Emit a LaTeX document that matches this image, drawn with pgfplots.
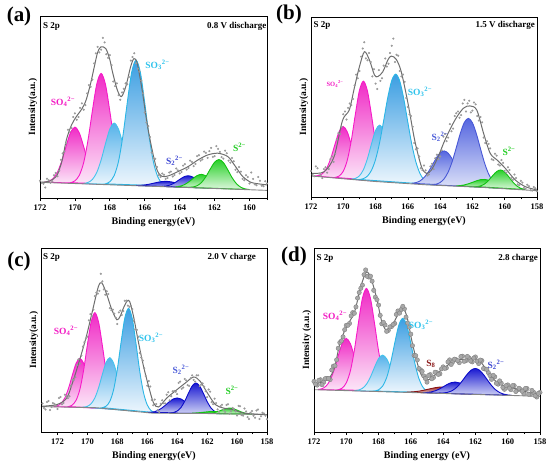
\documentclass[border=0pt]{standalone}
\usepackage{fontspec}
\setmainfont{Liberation Serif}
\usepackage{pgfplots}
\pgfplotsset{compat=1.18}
\definecolor{pinkL}{HTML}{F719C8}
\definecolor{pinkT}{HTML}{F02BC6}
\definecolor{pinkB}{HTML}{FCE8F8}
\definecolor{cyanL}{HTML}{2BB6E6}
\definecolor{cyanT}{HTML}{3B9EE2}
\definecolor{cyanB}{HTML}{EDF6FD}
\definecolor{cyanLL}{HTML}{45C3EC}
\definecolor{cyanLT}{HTML}{55B2EA}
\definecolor{blueL}{HTML}{0A0AC8}
\definecolor{blueT}{HTML}{1A1AD2}
\definecolor{blueB}{HTML}{CDD0F4}
\definecolor{slateL}{HTML}{4757D6}
\definecolor{slateT}{HTML}{5566E0}
\definecolor{slateB}{HTML}{DDE2F8}
\definecolor{greenL}{HTML}{12C212}
\definecolor{greenT}{HTML}{28D028}
\definecolor{greenB}{HTML}{DDF7DD}
\definecolor{redL}{HTML}{8A1414}
\definecolor{redT}{HTML}{A03838}
\definecolor{redB}{HTML}{EDD3D3}
\definecolor{envC}{HTML}{6E6E6E}
\definecolor{baseC}{HTML}{858585}
\definecolor{datC}{HTML}{9A9A9A}
\definecolor{ballF}{HTML}{A8A8A8}
\definecolor{ballD}{HTML}{7C7C7C}
\definecolor{tPink}{HTML}{F21BC3}
\definecolor{tCyan}{HTML}{2FC3EC}
\definecolor{tBlue}{HTML}{3C46D2}
\definecolor{tSlate}{HTML}{4A5BD8}
\definecolor{tGreen}{HTML}{22CC22}
\definecolor{tRed}{HTML}{8B1A1A}
\pgfplotsset{
  xps/.style={scale only axis, anchor=north west, x dir=reverse,
    ymin=0, ymax=100, ytick=\empty, xtick={158,160,...,172},
    minor x tick num=1, tick align=outside, xtick pos=bottom,
    axis line style={line width=0.8pt}, major tick length=3pt, minor tick length=2pt,
    every tick/.style={line width=0.7pt, black},
    ticklabel style={font=\fontsize{8.5}{10}\selectfont\bfseries},
    /pgf/number format/assume math mode=true,
    xlabel style={font=\fontsize{10}{12}\selectfont\bfseries},
    ylabel style={font=\fontsize{9.5}{11}\selectfont\bfseries, at={(axis description cs:-0.022,0.5)}, anchor=base},
    axis on top},
  pk/.style n args={3}{draw=#1, line width=0.9pt, top color=#2, bottom color=#3, smooth},
  env/.style={draw=envC, line width=1pt, smooth},
  base/.style={draw=baseC, line width=0.9pt},
  dat/.style={only marks, mark=*, mark size=0.85pt, mark options={draw=datC, fill=datC}},
  datbig/.style={only marks, mark=*, mark size=2.2pt, mark options={draw=ballD, fill=ballF, line width=0.35pt}},
}
\newcommand{\lab}[1]{\fontsize{#1}{#1}\selectfont\bfseries}
\begin{document}
\begin{tikzpicture}
\path[use as bounding box] (0,0) rectangle (550pt,-466pt);
% ================= (a)
\begin{axis}[xps, at={(40pt,-16pt)}, width=227pt, height=182pt, xmin=159, xmax=172,
  xlabel={Binding energy(eV)}, ylabel={Intensity(a.u.)}]
\addplot[pk={pinkL}{pinkT}{pinkB}] coordinates {(171.75,8.74) (171.5,9.20) (171.25,10.71) (171,14.20) (170.75,20.45) (170.5,28.60) (170.25,35.99) (170,38.94) (169.75,35.82) (169.5,28.26) (169.25,19.94) (169,13.52) (168.75,9.86) (168.5,8.18) (168.25,7.55)} -- cycle;
\addplot[pk={pinkL}{pinkT}{pinkB}] coordinates {(170.25,8.41) (170,9.42) (169.75,12.47) (169.5,19.42) (169.25,31.79) (169,47.92) (168.75,62.54) (168.5,68.43) (168.25,62.37) (168,47.58) (167.75,31.28) (167.5,18.74) (167.25,11.62) (167,8.40) (166.75,7.22)} -- cycle;
\addplot[pk={cyanLL}{cyanLT}{cyanB}] coordinates {(169.5,7.98) (169.25,8.52) (169,10.17) (168.75,14.01) (168.5,20.86) (168.25,29.82) (168,37.93) (167.75,41.18) (167.5,37.76) (167.25,29.48) (167,20.35) (166.75,13.33) (166.5,9.32) (166.25,7.50) (166,6.79)} -- cycle;
\addplot[pk={cyanL}{cyanT}{cyanB}] coordinates {(168.25,7.78) (168,8.94) (167.75,12.40) (167.5,20.27) (167.25,34.27) (167,52.53) (166.75,69.08) (166.5,75.75) (166.25,68.91) (166,52.19) (165.75,33.76) (165.5,19.59) (165.25,11.55) (165,7.92) (164.75,6.59)} -- cycle;
\addplot[pk={blueL}{blueT}{blueB}] coordinates {(166.5,6.88) (166.25,6.97) (166,7.19) (165.75,7.58) (165.5,8.10) (165.25,8.66) (165,9.05) (164.75,9.16) (164.5,8.88) (164.25,8.32) (164,7.59) (163.75,6.90) (163.5,6.34) (163.25,5.95) (163,5.69)} -- cycle;
\addplot[pk={blueL}{blueT}{blueB}] coordinates {(165,6.40) (164.75,6.65) (164.5,7.31) (164.25,8.56) (164,10.20) (163.75,11.68) (163.5,12.23) (163.25,11.51) (163,9.86) (162.75,8.05) (162.5,6.63) (162.25,5.80) (162,5.38)} -- cycle;
\addplot[pk={greenL}{greenT}{greenB}] coordinates {(164.25,6.17) (164,6.47) (163.75,7.25) (163.5,8.69) (163.25,10.61) (163,12.33) (162.75,12.98) (162.5,12.16) (162.25,10.27) (162,8.18) (161.75,6.57) (161.5,5.62) (161.25,5.15)} -- cycle;
\addplot[pk={greenL}{greenT}{greenB}] coordinates {(163.5,5.83) (163.25,6.04) (163,6.77) (162.75,8.54) (162.5,11.71) (162.25,15.89) (162,19.65) (161.75,21.14) (161.5,19.48) (161.25,15.55) (161,11.20) (160.75,7.86) (160.5,5.92) (160.25,5.02) (160,4.64)} -- cycle;
\addplot[base] coordinates {(172,8.62) (159,4.2)};
\addplot[dat] coordinates {(172.0,9.5) (171.8,7.8) (171.6,10.6) (171.4,8.4) (171.2,12.5) (171.0,12.0) (170.8,21) (170.6,25.5) (170.4,37.5) (170.2,38.5) (170.0,46.5) (169.8,44.5) (169.6,52) (169.4,51) (169.2,62) (169.0,65) (168.8,79.5) (168.6,80) (168.4,88) (168.2,79) (168.0,78.5) (167.8,64) (167.6,63) (167.4,54) (167.2,60) (167.0,62.5) (166.8,75.5) (166.6,79.5) (166.4,71) (166.2,64.5) (166.0,47) (165.8,39.5) (165.6,25) (165.4,21.5) (165.2,12.5) (165.0,13.5) (164.8,10.5) (164.6,14.0) (164.4,11.8) (164.2,16.2) (164.0,13.5) (163.8,17.8) (163.6,15.6) (163.4,20.5) (163.2,17.5) (163.0,23) (162.8,20.5) (162.6,25.5) (162.4,22) (162.2,27.5) (162.0,23) (161.8,27) (161.6,22.5) (161.4,26) (161.2,20.5) (161.0,22) (160.8,15.5) (160.6,17) (160.4,10.5) (160.2,12.5) (160.0,8) (159.8,10.5) (159.6,7) (159.4,9.5) (159.2,6.5) (159.0,8)
(171.9,8.2) (171.7,5.8) (171.5,9.8) (171.3,9.2) (171.1,13.8) (170.9,15) (170.7,24.5) (170.5,30) (170.3,36.5) (170.1,44.5) (169.9,43) (169.7,49.5) (169.5,48.5) (169.3,57.5) (169.1,61) (168.9,74) (168.7,83) (168.5,81.5) (168.3,85.5) (168.1,77) (167.9,73) (167.7,61.5) (167.5,56.5) (167.3,58) (167.1,63) (166.9,66.5) (166.7,77.5) (166.5,74) (166.3,69.5) (166.1,57.5) (165.9,41.5) (165.7,33.5) (165.5,22) (165.3,17) (165.1,11.5) (164.9,12.8) (164.7,11) (164.5,14.5) (164.3,12.6) (164.1,15.2) (163.9,14.3) (163.7,18.6) (163.5,16.5) (163.3,19.8) (163.1,18.7) (162.9,23.5) (162.7,21.2) (162.5,24.8) (162.3,25.8) (162.1,22.6) (161.9,28.5) (161.7,25.3) (161.5,21.6) (161.3,24.6) (161.1,19.4) (160.9,20.2) (160.7,14.2) (160.5,14.5) (160.3,9.8) (160.1,11.5) (159.9,14) (159.7,7.5) (159.5,11.5) (159.3,6.8) (159.1,9.2)};
\addplot[env] coordinates {(172.0,8.6) (171.5,9.2) (171.06,11.9) (170.75,20) (170.49,31.9) (170.2,40) (169.92,44.7) (169.6,49) (169.36,53.8) (169.1,63) (168.89,72.1) (168.7,80) (168.51,83) (168.23,82.1) (168.0,76) (167.85,69.3) (167.57,59.3) (167.34,55.7) (167.09,61.1) (166.81,72.1) (166.62,76.6) (166.43,73.9) (166.15,59.3) (165.87,41.1) (165.58,26.5) (165.30,15.5) (165.02,11.9) (164.64,12.2) (164.08,14.6) (163.51,17.3) (162.94,21) (162.38,23.7) (161.81,24.6) (161.25,22.8) (160.87,18.2) (160.40,11.9) (159.92,8.6) (159.5,7.8) (159.0,7.2)};
\end{axis}
% ================= (b)
\begin{axis}[xps, at={(311pt,-17pt)}, width=226pt, height=180pt, xmin=158, xmax=172,
  xlabel={Binding energy(eV)}, ylabel={Intensity(a.u.)}]
\addplot[pk={pinkL}{pinkT}{pinkB}] coordinates {(171.75,11.69) (171.5,12.01) (171.25,13.31) (171,16.47) (170.75,22.19) (170.5,29.71) (170.25,36.50) (170,39.15) (169.75,36.12) (169.5,28.93) (169.25,21.03) (169,14.92) (168.75,11.37) (168.5,9.69) (168.25,8.97)} -- cycle;
\addplot[pk={pinkL}{pinkT}{pinkB}] coordinates {(170.5,10.89) (170.25,11.68) (170,14.32) (169.75,20.50) (169.5,31.56) (169.25,46.06) (169,59.17) (168.75,64.38) (168.5,58.78) (168.25,45.28) (168,30.40) (167.75,18.99) (167.5,12.48) (167.25,9.50) (167,8.37)} -- cycle;
\addplot[pk={cyanLL}{cyanLT}{cyanB}] coordinates {(169.5,9.96) (169.25,10.34) (169,11.76) (168.75,15.20) (168.5,21.43) (168.25,29.61) (168,37.01) (167.75,39.95) (167.5,36.72) (167.25,28.98) (167,20.46) (166.75,13.89) (166.5,10.10) (166.25,8.35) (166,7.63)} -- cycle;
\addplot[pk={cyanL}{cyanT}{cyanB}] coordinates {(169,9.72) (168.75,10.20) (168.5,11.64) (168.25,14.87) (168,20.86) (167.75,30.19) (167.5,42.32) (167.25,54.97) (167,64.68) (166.75,68.27) (166.5,64.38) (166.25,54.39) (166,41.44) (165.75,29.02) (165.5,19.40) (165.25,13.07) (165,9.50) (164.75,7.72) (164.5,6.94)} -- cycle;
\addplot[pk={slateL}{slateT}{slateB}] coordinates {(165.75,7.61) (165.5,7.99) (165.25,8.93) (165,10.77) (164.75,13.65) (164.5,17.47) (164.25,21.46) (164,24.50) (163.75,25.60) (163.5,24.30) (163.25,21.06) (163,16.87) (162.75,12.85) (162.5,9.72) (162.25,7.64) (162,6.45) (161.75,5.83)} -- cycle;
\addplot[pk={slateL}{slateT}{slateB}] coordinates {(164.5,6.82) (164.25,7.14) (164,8.07) (163.75,10.13) (163.5,13.91) (163.25,19.78) (163,27.39) (162.75,35.35) (162.5,41.44) (162.25,43.70) (162,41.24) (161.75,34.95) (161.5,26.79) (161.25,18.94) (161,12.84) (160.75,8.82) (160.5,6.53) (160.25,5.36) (160,4.81)} -- cycle;
\addplot[pk={greenL}{greenT}{greenB}] coordinates {(163,6.20) (162.75,6.35) (162.5,6.71) (162.25,7.32) (162,8.13) (161.75,8.99) (161.5,9.62) (161.25,9.76) (161,9.35) (160.75,8.48) (160.5,7.39) (160.25,6.34) (160,5.50) (159.75,4.90) (159.5,4.51)} -- cycle;
\addplot[pk={greenL}{greenT}{greenB}] coordinates {(161.75,5.75) (161.5,6.18) (161.25,7.23) (161,9.20) (160.75,11.80) (160.5,14.15) (160.25,15.02) (160,13.88) (159.75,11.26) (159.5,8.38) (159.25,6.15) (159,4.82) (158.75,4.16)} -- cycle;
\addplot[base] coordinates {(172,11.7) (168,8.6) (164.75,6.7) (161.5,5.4) (158,3.5)};
\addplot[dat] coordinates {(172.0,14.5) (171.8,11.5) (171.6,16) (171.4,12) (171.2,15.5) (171.0,13.5) (170.8,21) (170.6,19.5) (170.4,32) (170.2,35) (170.0,46) (169.8,43) (169.6,52) (169.4,54.5) (169.2,68) (169.0,70) (168.8,82.5) (168.6,77) (168.4,80) (168.2,67) (168.0,63) (167.8,70.5) (167.6,66) (167.4,77) (167.2,74) (167.0,84) (166.8,75) (166.6,78.5) (166.4,67) (166.2,64) (166.0,50) (165.8,45) (165.6,30) (165.4,27) (165.2,16) (165.0,17.5) (164.8,12) (164.6,17) (164.4,15.5) (164.2,23.5) (164.0,22.5) (163.8,33.5) (163.6,31) (163.4,40.5) (163.2,38) (163.0,46.5) (162.8,44) (162.6,52) (162.4,47.5) (162.2,53.5) (162.0,48) (161.8,51.5) (161.6,42.5) (161.4,41.5) (161.2,30) (161.0,29.5) (160.8,21) (160.6,24) (160.4,18) (160.2,20.5) (160.0,14.5) (159.8,16.5) (159.6,10.5) (159.4,12.5) (159.2,7) (159.0,9) (158.8,5) (158.6,6.8) (158.4,3.8) (158.2,5.5) (158.0,3.2)
(171.9,12.3) (171.7,17) (171.5,13) (171.3,10.5) (171.1,16.5) (170.9,15.5) (170.7,22.5) (170.5,24) (170.3,35.5) (170.1,39) (169.9,47.5) (169.7,49.5) (169.5,51) (169.3,62) (169.1,66) (168.9,78) (168.7,86) (168.5,76) (168.3,75) (168.1,71) (167.9,60) (167.7,64.5) (167.5,73) (167.3,72.5) (167.1,80) (166.9,88) (166.7,79) (166.5,70) (166.3,68) (166.1,55) (165.9,46) (165.7,39) (165.5,26.5) (165.3,22.5) (165.1,15) (164.9,14.8) (164.7,12.5) (164.5,18.5) (164.3,21.5) (164.1,21) (163.9,26) (163.7,35) (163.5,33) (163.3,36.5) (163.1,45) (162.9,47.5) (162.7,45.5) (162.5,54) (162.3,52) (162.1,47) (161.9,52.5) (161.7,45) (161.5,44.5) (161.3,33) (161.1,31) (160.9,27) (160.7,20.5) (160.5,23) (160.3,17.5) (160.1,19) (159.9,13.5) (159.7,15) (159.5,9.5) (159.3,10.5) (159.1,6.5) (158.9,8) (158.7,4.5) (158.5,6) (158.3,3.5) (158.1,4.8)};
\addplot[env] coordinates {(172,13.1) (171.19,14) (170.57,22.4) (170.05,42.5) (169.63,48.3) (169.32,60.4) (169.0,72.4) (168.69,80.7) (168.38,76.1) (168.07,67.8) (167.86,66.9) (167.55,69.6) (167.24,76.1) (167.03,78.3) (166.72,76.5) (166.41,69.6) (165.99,52) (165.58,31.7) (165.16,16.9) (164.85,13.1) (164.54,15) (164.12,22.4) (163.7,31.7) (163.08,42.8) (162.56,49.3) (162.15,50.6) (161.73,48.3) (161.31,35.4) (160.9,24.3) (160.48,20.6) (159.96,15.9) (159.34,9.4) (158.71,5.7) (158.0,3.9)};
\end{axis}
% ================= (c)
\begin{axis}[xps, at={(41pt,-248pt)}, width=226pt, height=184pt, xmin=158, xmax=173.1,
  xlabel={Binding energy(eV)}, ylabel={Intensity(a.u.)}]
\addplot[pk={pinkL}{pinkT}{pinkB}] coordinates {(172.25,13.84) (172,14.28) (171.75,15.60) (171.5,18.63) (171.25,24.02) (171,31.05) (170.75,37.42) (170.5,39.98) (170.25,37.33) (170,30.88) (169.75,23.77) (169.5,18.30) (169.25,15.09) (169,13.53) (168.75,12.86)} -- cycle;
\addplot[pk={pinkL}{pinkT}{pinkB}] coordinates {(171.25,13.84) (171,14.72) (170.75,17.33) (170.5,23.24) (170.25,33.72) (170,47.41) (169.75,59.80) (169.5,64.82) (169.25,59.62) (169,46.99) (168.75,33.07) (168.5,22.35) (168.25,16.19) (168,13.34) (167.75,12.23)} -- cycle;
\addplot[pk={cyanLL}{cyanLT}{cyanB}] coordinates {(170.25,13.52) (170,13.98) (169.75,15.37) (169.5,18.55) (169.25,24.10) (169,31.32) (168.75,37.86) (168.5,40.39) (168.25,37.46) (168,30.53) (167.75,22.92) (167.5,17.03) (167.25,13.61) (167,11.99) (166.75,11.29)} -- cycle;
\addplot[pk={cyanL}{cyanT}{cyanB}] coordinates {(169,13.23) (168.75,14.04) (168.5,16.70) (168.25,22.93) (168,34.09) (167.75,48.72) (167.5,61.94) (167.25,67.20) (167,61.55) (166.75,47.93) (166.5,32.91) (166.25,21.35) (166,14.73) (165.75,11.67) (165.5,10.55)} -- cycle;
\addplot[pk={blueL}{blueT}{blueB}] coordinates {(166,10.66) (165.75,10.69) (165.5,11.04) (165.25,11.89) (165,13.19) (164.75,14.87) (164.5,16.63) (164.25,17.99) (164,18.50) (163.75,17.97) (163.5,16.60) (163.25,14.82) (163,13.13) (162.75,11.81) (162.5,10.94) (162.25,10.44) (162,10.17)} -- cycle;
\addplot[pk={blueL}{blueT}{blueB}] coordinates {(164.5,10.26) (164.25,10.56) (164,11.40) (163.75,13.29) (163.5,16.65) (163.25,21.03) (163,25.00) (162.75,26.61) (162.5,24.98) (162.25,20.98) (162,16.55) (161.75,13.15) (161.5,11.22) (161.25,10.33) (161,10.00)} -- cycle;
\addplot[pk={greenL}{greenT}{greenB}] coordinates {(163,10.24) (162.75,10.35) (162.5,10.53) (162.25,10.75) (162,10.96) (161.75,11.13) (161.5,11.17) (161.25,11.06) (161,10.83) (160.75,10.55) (160.5,10.26) (160.25,10.04) (160,9.89)} -- cycle;
\addplot[pk={greenL}{greenT}{greenB}] coordinates {(162,10.11) (161.75,10.24) (161.5,10.58) (161.25,11.19) (161,12.02) (160.75,12.76) (160.5,13.03) (160.25,12.69) (160,11.89) (159.75,10.99) (159.5,10.31) (159.25,9.91) (159,9.71)} -- cycle;
\addplot[base] coordinates {(173.1,13.82) (169.4,13.2) (165.6,10.2) (162.5,10.1) (158,9.5)};
\addplot[dat] coordinates {(173.0,15.5) (172.8,12.2) (172.6,16.9) (172.4,13.6) (172.2,15.3) (172.0,12.5) (171.8,19) (171.6,15.8) (171.4,19.4) (171.2,19.4) (171.0,28.4) (170.8,29.8) (170.6,39.5) (170.4,41.5) (170.2,48.8) (170.0,51.8) (169.8,64.1) (169.6,66.5) (169.4,75.7) (169.2,76.7) (169.0,81.9) (168.8,74.6) (168.6,75) (168.4,66.2) (168.2,64.3) (168.0,58.7) (167.8,66) (167.6,65.7) (167.4,71.4) (167.2,68) (167.0,66.8) (166.8,55.8) (166.6,51.8) (166.4,40.5) (166.2,34.6) (166.0,25.2) (165.8,24.7) (165.6,14.6) (165.4,15.2) (165.2,10.9) (165.0,17.2) (164.8,15.5) (164.6,21.6) (164.4,19.4) (164.2,22.3) (164.0,20.6) (163.8,27.4) (163.6,24.2) (163.4,28) (163.2,25.1) (163.0,30.8) (162.8,27.4) (162.6,30.8) (162.4,25.7) (162.2,24.6) (162.0,18.9) (161.8,21.9) (161.6,15.1) (161.4,15.7) (161.2,11) (161.0,14.8) (160.8,10.9) (160.6,15.1) (160.4,11.3) (160.2,12.5) (160.0,9) (159.8,14) (159.6,8.9) (159.4,11.2) (159.2,7.1) (159.0,11.4) (158.8,7.8) (158.6,12.2) (158.4,8.6) (158.2,10) (158.0,6.9)
(172.9,13.1) (172.7,16.3) (172.5,12) (172.3,15.7) (172.1,14.4) (171.9,18.5) (171.7,15.1) (171.5,20.3) (171.3,18.4) (171.1,25.1) (170.9,28.3) (170.7,36.4) (170.5,37.2) (170.3,46.4) (170.1,50.8) (169.9,60.7) (169.7,63) (169.5,73.8) (169.3,75.2) (169.1,86) (168.9,77.5) (168.7,76.5) (168.5,67.3) (168.3,66.5) (168.1,62) (167.9,65) (167.7,63.6) (167.5,71.3) (167.3,68.7) (167.1,68.6) (166.9,60.5) (166.7,55.5) (166.5,42.9) (166.3,38.8) (166.1,30.4) (165.9,27.7) (165.7,17.4) (165.5,17.6) (165.3,12) (165.1,15.3) (164.9,15.6) (164.7,20.3) (164.5,17.2) (164.3,22.1) (164.1,21.9) (163.9,26.7) (163.7,23.5) (163.5,28.8) (163.3,25.5) (163.1,29.2) (162.9,28.3) (162.7,30.8) (162.5,25) (162.3,26.4) (162.1,22.2) (161.9,23.1) (161.7,16.2) (161.5,18.1) (161.3,12.3) (161.1,14.1) (160.9,12.1) (160.7,14.7) (160.5,9.9) (160.3,13.1) (160.1,11.2) (159.9,14.2) (159.7,9.2) (159.5,12.8) (159.3,8.1) (159.1,10.5) (158.9,8.8) (158.7,11.7) (158.5,7.1) (158.3,10.5) (158.1,8.9)};
\addplot[env] coordinates {(173.05,14) (172.04,14.9) (171.38,18.5) (170.93,28.4) (170.48,40.2) (170.04,52.9) (169.59,68.3) (169.26,79.2) (169.03,81) (168.7,74.6) (168.37,66.5) (168.03,61) (167.81,62.9) (167.59,67.4) (167.36,71) (167.18,71) (166.92,62.9) (166.58,48.4) (166.25,35.7) (165.91,24.8) (165.58,15.8) (165.24,13.6) (164.69,18.5) (164.02,23) (163.46,26.6) (162.9,29.9) (162.46,27.5) (162.01,21.6) (161.45,14.9) (160.9,13) (160.23,12.1) (159.56,10.3) (158.11,9.4)};
\end{axis}
% ================= (d)
\begin{axis}[xps, at={(314pt,-248pt)}, width=226pt, height=184pt, xmin=158, xmax=172,
  xlabel={Binding energy (eV)}, ylabel={Intensity (a.u.)}]
\addplot[pk={pinkL}{pinkT}{pinkB}] coordinates {(171.75,23.11) (171.5,23.56) (171.25,24.96) (171,28.16) (170.75,33.90) (170.5,41.38) (170.25,48.17) (170,50.88) (169.75,48.04) (169.5,41.13) (169.25,33.51) (169,27.65) (168.75,24.31) (168.5,22.79) (168.25,22.21)} -- cycle;
\addplot[pk={pinkL}{pinkT}{pinkB}] coordinates {(170.5,22.96) (170.25,23.91) (170,26.71) (169.75,33.10) (169.5,44.44) (169.25,59.24) (169,72.65) (168.75,78.06) (168.5,72.52) (168.25,58.98) (168,44.05) (167.75,32.59) (167.5,26.07) (167.25,23.14) (167,22.06)} -- cycle;
\addplot[pk={cyanLL}{cyanLT}{cyanB}] coordinates {(169.5,22.49) (169.25,22.77) (169,23.73) (168.75,25.96) (168.5,29.96) (168.25,35.18) (168,39.92) (167.75,41.81) (167.5,39.79) (167.25,34.93) (167,29.57) (166.75,25.45) (166.5,23.09) (166.25,22.00) (166,21.59)} -- cycle;
\addplot[pk={cyanL}{cyanT}{cyanB}] coordinates {(168.25,22.28) (168,22.95) (167.75,24.95) (167.5,29.52) (167.25,37.66) (167,48.28) (166.75,57.91) (166.5,61.79) (166.25,57.78) (166,48.03) (165.75,37.27) (165.5,29.01) (165.25,24.30) (165,22.18) (164.75,21.38)} -- cycle;
\addplot[pk={redL}{redT}{redB}] coordinates {(166.25,21.67) (166,21.76) (165.75,21.92) (165.5,22.20) (165.25,22.59) (165,23.09) (164.75,23.60) (164.5,24.07) (164.25,24.38) (164,24.44) (163.75,24.25) (163.5,23.81) (163.25,23.22) (163,22.58) (162.75,21.95) (162.5,21.43) (162.25,21.02) (162,20.73) (161.75,20.51)} -- cycle;
\addplot[pk={blueL}{blueT}{blueB}] coordinates {(165.25,21.37) (165,21.48) (164.75,21.77) (164.5,22.37) (164.25,23.31) (164,24.54) (163.75,25.84) (163.5,26.81) (163.25,27.15) (163,26.69) (162.75,25.58) (162.5,24.16) (162.25,22.79) (162,21.73) (161.75,21.00) (161.5,20.58) (161.25,20.34)} -- cycle;
\addplot[pk={blueL}{blueT}{blueB}] coordinates {(164.25,21.09) (164,21.18) (163.75,21.50) (163.5,22.23) (163.25,23.61) (163,25.77) (162.75,28.56) (162.5,31.49) (162.25,33.72) (162,34.53) (161.75,33.59) (161.5,31.23) (161.25,28.17) (161,25.25) (160.75,22.97) (160.5,21.46) (160.25,20.60) (160,20.15) (159.75,19.93)} -- cycle;
\addplot[base] coordinates {(172,23.0) (158,19.4)};
\addplot[datbig] coordinates {(172.0,27.5) (171.8,25.5) (171.6,28.4) (171.4,27.1) (171.2,29.1) (171.0,28.5) (170.8,35.8) (170.6,39.2) (170.4,48.6) (170.2,51.7) (170.0,58) (169.8,59) (169.6,64.9) (169.4,68) (169.2,75.8) (169.0,79.8) (168.8,88.1) (168.6,84.2) (168.4,82) (168.2,73.3) (168.0,69) (167.8,58.8) (167.6,58.2) (167.4,55.2) (167.2,57.3) (167.0,59) (166.8,65.8) (166.6,66.5) (166.4,66.9) (166.2,59.2) (166.0,53.2) (165.8,41.6) (165.6,39.2) (165.4,33.8) (165.2,30.5) (165.0,27.1) (164.8,31.2) (164.6,29.6) (164.4,32.3) (164.2,31.6) (164.0,35.4) (163.8,34.8) (163.6,39.2) (163.4,38.2) (163.2,39.3) (163.0,37.7) (162.8,41.2) (162.6,38.7) (162.4,40.3) (162.2,38.1) (162.0,40.8) (161.8,37.2) (161.6,38.8) (161.4,34.2) (161.2,32.3) (161.0,28.6) (160.8,30) (160.6,26) (160.4,26.5) (160.2,23.2) (160.0,25.6) (159.8,23) (159.6,25.2) (159.4,22.8) (159.2,23.1) (159.0,20.8) (158.8,23.6) (158.6,20.5) (158.4,21.6) (158.2,19) (158.0,21.5)
(171.9,26) (171.7,28.1) (171.5,25.7) (171.3,29) (171.1,29.1) (170.9,33.7) (170.7,36) (170.5,45.5) (170.3,49.5) (170.1,55.6) (169.9,58) (169.7,63.1) (169.5,64.5) (169.3,72.8) (169.1,78.1) (168.9,85.5) (168.7,84.6) (168.5,84.7) (168.3,77) (168.1,71.9) (167.9,63.4) (167.7,59.6) (167.5,54.7) (167.3,57.1) (167.1,58.4) (166.9,63.9) (166.7,64.6) (166.5,68.3) (166.3,62.4) (166.1,57) (165.9,46.9) (165.7,41.5) (165.5,34.5) (165.3,33) (165.1,29.1) (164.9,30.7) (164.7,28.9) (164.5,32.5) (164.3,31.3) (164.1,34.3) (163.9,34.6) (163.7,38.1) (163.5,36.7) (163.3,39.6) (163.1,38.8) (162.9,41) (162.7,38.4) (162.5,41.1) (162.3,38.6) (162.1,40.2) (161.9,38.5) (161.7,39.1) (161.5,34.5) (161.3,34.1) (161.1,30.7) (160.9,30.8) (160.7,26.5) (160.5,27.8) (160.3,24.2) (160.1,25.2) (159.9,23.8) (159.7,25.2) (159.5,22) (159.3,23.8) (159.1,22.2) (158.9,23.7) (158.7,20.5) (158.5,22.6) (158.3,19.7) (158.1,21)};
\addplot[env] coordinates {(172,26.5) (171.5,27) (171,30) (170.7,36) (170.4,48) (170.0,57) (169.5,65) (169.1,79) (168.75,87) (168.45,83) (168.1,72) (167.8,60) (167.5,55) (167.2,57) (166.8,64) (166.55,68) (166.25,63) (165.95,50) (165.65,39) (165.35,31) (164.95,28.3) (164.5,31) (164.1,33.7) (163.7,36.4) (163.25,39) (162.65,39.5) (162.05,40) (161.6,37.3) (161.2,32) (160.7,27.3) (160.2,25) (159.5,23.5) (158.7,21.5) (158,20.5)};
\end{axis}
% ================= texts
\begin{scope}[every node/.style={inner sep=0pt}]
\node[font=\lab{21}] at (19pt,-16pt) {(a)};
\node[font=\lab{21}] at (289pt,-14pt) {(b)};
\node[font=\lab{21}] at (19pt,-261pt) {(c)};
\node[font=\lab{21}] at (294pt,-256pt) {(d)};
\node[font=\lab{9}, anchor=west] at (43pt,-26.5pt) {S 2p};
\node[font=\lab{9}, anchor=west] at (313.5pt,-25pt) {S 2p};
\node[font=\lab{9}, anchor=west] at (43pt,-257pt) {S 2p};
\node[font=\lab{9}, anchor=west] at (316.5pt,-258pt) {S 2p};
\node[font=\lab{9}, anchor=east] at (266.5pt,-26.5pt) {0.8 V discharge};
\node[font=\lab{9}, anchor=east] at (535pt,-25pt) {1.5 V discharge};
\node[font=\lab{9}, anchor=east] at (256pt,-257pt) {2.0 V charge};
\node[font=\lab{9}, anchor=east] at (538pt,-258pt) {2.8 charge};
% (a)
\node[font=\lab{9.5}, text=tPink] at (63pt,-102pt) {SO\textsubscript{4}\textsuperscript{2−}};
\node[font=\lab{9.5}, text=tCyan] at (157.5pt,-65pt) {SO\textsubscript{3}\textsuperscript{2−}};
\node[font=\lab{9.5}, text=tBlue] at (174.5pt,-161pt) {S\textsubscript{2}\textsuperscript{2−}};
\node[font=\lab{9.5}, text=tGreen] at (239.5pt,-147pt) {S\textsuperscript{2−}};
% (b)
\node[font=\lab{6.5}, text=tPink] at (335pt,-84pt) {SO\textsubscript{4}\textsuperscript{2−}};
\node[font=\lab{9.5}, text=tCyan] at (420pt,-92pt) {SO\textsubscript{3}\textsuperscript{2−}};
\node[font=\lab{9.5}, text=tSlate] at (440pt,-137pt) {S\textsubscript{2}\textsuperscript{2−}};
\node[font=\lab{9.5}, text=tGreen] at (509pt,-151pt) {S\textsuperscript{2−}};
% (c)
\node[font=\lab{9.5}, text=tPink] at (66pt,-331pt) {SO\textsubscript{4}\textsuperscript{2−}};
\node[font=\lab{9.5}, text=tCyan] at (151pt,-338pt) {SO\textsubscript{3}\textsuperscript{2−}};
\node[font=\lab{9.5}, text=tSlate] at (181pt,-370pt) {S\textsubscript{2}\textsuperscript{2−}};
\node[font=\lab{9.5}, text=tGreen] at (232pt,-390pt) {S\textsuperscript{2−}};
% (d)
\node[font=\lab{9.5}, text=tPink] at (335pt,-316pt) {SO\textsubscript{4}\textsuperscript{2−}};
\node[font=\lab{9.5}, text=tCyan] at (421pt,-325pt) {SO\textsubscript{3}\textsuperscript{2−}};
\node[font=\lab{9.5}, text=tRed] at (431pt,-364pt) {S\textsubscript{8}};
\node[font=\lab{9.5}, text=tBlue] at (496pt,-365pt) {S\textsubscript{2}\textsuperscript{2−}};
\end{scope}
\end{tikzpicture}
\end{document}
